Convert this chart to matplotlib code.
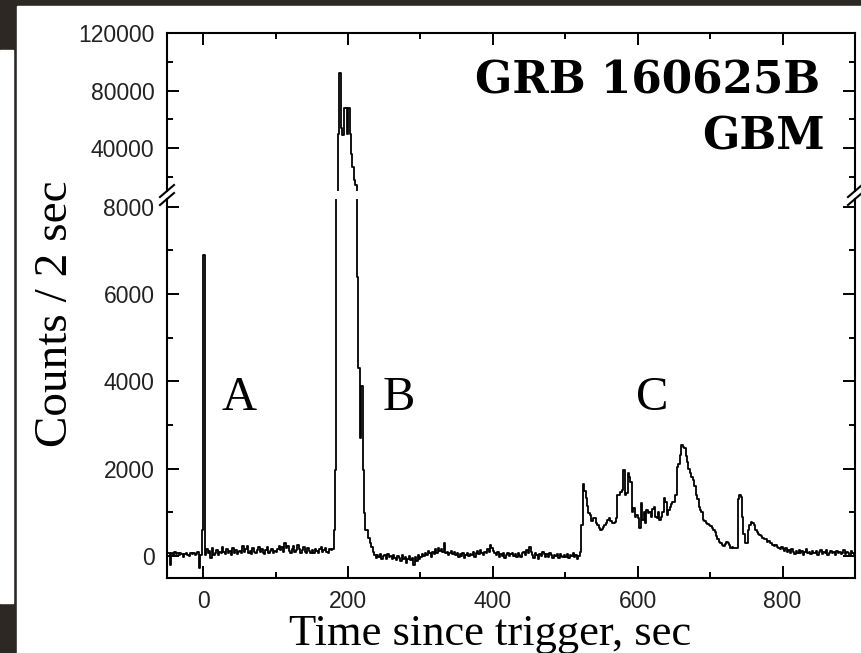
import numpy as np
import matplotlib.pyplot as plt
from matplotlib.lines import Line2D
from matplotlib.patches import Rectangle
from matplotlib.ticker import MultipleLocator

# GBM light curve, counts per 2 s bin, first bin starts at t = -48 s
t_start = -48
bin_width = 2

pre = [60, -200, 80, 20, 90, 40, 60, 30, 70, 50, -20, 40, 80, 30, 10, 60,
       40, 70, 20, 50, 90, -280, 30, 600]
c000 = [6900, 20, 150, 60, 120, -50, 180, 30, 80, 140, 20, 100, 60, 200, 90,
        40, 150, 70, 110, 30, 190, 80, 130, 50, 100]
c050 = [120, 60, 220, 90, 150, 230, 70, 120, 40, 180, 100, 60, 140, 210, 90,
        160, 70, 50, 130, 200, 80, 110, 170, 60, 120]
c100 = [90, 150, 240, 130, 200, 100, 290, 180, 230, 120, 60, 160, 220, 90,
        140, 250, 170, 80, 130, 210, 100, 60, 180, 120, 70]
c150 = [130, 80, 170, 110, 60, 150, 200, 90, 140, 180, 100, 70, 160, 130,
        150, 600, 1970, 9000, 50000, 92000, 54000, 49000, 67700, 67700, 50000]
c200 = [67700, 50000, 36000, 27000, 17600, 14000, 6400, 4300, 2700, 3900,
        1970, 985, 600, 600, 410, 300, 210, 100, 20, -40, 30, -20, 50, -60, 10]
c250 = [20, -60, 40, -30, 0, -80, 30, -50, -100, 10, -40, -120, 20, -70, -30,
        -150, -60, 10, -90, -40, -200, -20, -110, 30, -60]
c300 = [-30, 50, -10, 80, 20, 110, 60, -20, 90, 40, 150, 70, 180, 120, 160,
        90, 300, 60, 100, 30, 80, 120, 40, 90, 20]
c350 = [60, -20, 40, 0, 80, -40, 30, 70, -10, 50, 20, 90, -30, 60, 110, 40,
        130, 70, 20, 100, 60, 150, 90, 250, 180]
c400 = [120, 60, 20, 90, -20, 40, 0, 70, -50, 30, 60, -10, 40, 80, 10, 50,
        -30, 70, 30, -20, 60, 100, 30, 140, 80]
c450 = [200, 90, 30, -40, 60, 20, -60, 40, 10, 100, 50, -30, 40, -20, 70, 20,
        -50, 30, 0, 40, -40, 50, 10, -30, 20]
c500 = [-20, 40, -50, 30, -10, 60, -30, 20, -60, 10, 100, 710, 1650, 1500,
        1320, 1150, 980, 940, 800, 880, 860, 760, 710, 640, 595]
c550 = [620, 670, 700, 760, 820, 860, 800, 760, 750, 790, 860, 1400, 1400,
        1470, 1520, 1970, 1400, 1450, 1890, 1820, 1700, 1015, 1100, 900, 950]
c600 = [880, 630, 1210, 820, 1000, 760, 1050, 980, 1015, 900, 1080, 1130, 900,
        860, 1000, 820, 900, 1000, 1320, 1245, 940, 1050, 1130, 1200, 1245]
c650 = [1245, 1400, 2045, 2100, 2313, 2540, 2500, 2465, 2300, 2160, 2000,
        1890, 1800, 1740, 1600, 1400, 1300, 1130, 1050, 1000, 820, 800, 760,
        740, 710]
c700 = [680, 640, 595, 560, 450, 380, 330, 300, 250, 230, 280, 330, 300, 250,
        175, 200, 175, 180, 175, 1300, 1400, 1350, 900, 500, 290]
c750 = [290, 600, 710, 790, 760, 700, 600, 560, 500, 480, 460, 420, 400, 380,
        330, 350, 300, 290, 260, 230, 250, 210, 180, 160, 200]
c800 = [150, 120, 180, 90, 130, 60, 150, 100, 50, 120, 80, 140, 60, 110, 30,
        90, 150, 70, 100, 40, 120, 80, 60, 110, 20]
c850 = [90, 130, 50, 100, 70, 140, 30, 80, 110, 60, 90, 20, 120, 70, 100, 40,
        80, 130, 50, 90, 60, 10, 110, 70, 40]

counts = np.array(pre + c000 + c050 + c100 + c150 + c200 + c250 + c300 + c350
                  + c400 + c450 + c500 + c550 + c600 + c650 + c700 + c750
                  + c800 + c850, dtype=float)
t = t_start + bin_width * np.arange(len(counts))

episodes = ["A", "B", "C"]
episode_x = [239, 399, 652]   # pixel centres of the letters

W, H = 861, 653
def fx(x):
    return x / W
def fy(y):
    return 1 - y / H

dark = '#2d2823'
fig = plt.figure(figsize=(W / 100, H / 100), dpi=100)
fig.patch.set_facecolor(dark)
fig.add_artist(Rectangle((fx(17), 0), 1 - fx(17), fy(6), transform=fig.transFigure,
                         color='white', zorder=-2))
fig.add_artist(Rectangle((0, fy(603)), fx(13), fy(50) - fy(603),
                         transform=fig.transFigure, color='white', zorder=-2))

left, right = 167, 855
ax_lo = fig.add_axes([fx(left), fy(578), fx(right) - fx(left), fy(199) - fy(578)])
ax_hi = fig.add_axes([fx(left), fy(191), fx(right) - fx(left), fy(33.3) - fy(191)])

for ax in (ax_lo, ax_hi):
    ax.step(t, counts, where='post', color='black', lw=1.3)
    ax.set_xlim(-50, 900)
    ax.xaxis.set_major_locator(MultipleLocator(200))
    ax.xaxis.set_minor_locator(MultipleLocator(100))
    for s in ax.spines.values():
        s.set_linewidth(1.5)
    ax.tick_params(which='both', direction='in', width=1.4, right=True,
                   labelsize=16.5, labelcolor='#222222', pad=9)
    ax.tick_params(which='major', length=8.5)
    ax.tick_params(which='minor', length=4.5)

ax_lo.set_ylim(-504, 8177)
ax_lo.yaxis.set_major_locator(MultipleLocator(2000))
ax_lo.yaxis.set_minor_locator(MultipleLocator(1000))
ax_lo.spines['top'].set_visible(False)
ax_lo.tick_params(which='both', top=False)

ax_hi.set_ylim(9970, 120000)
ax_hi.yaxis.set_major_locator(MultipleLocator(40000))
ax_hi.yaxis.set_minor_locator(MultipleLocator(20000))
ax_hi.spines['bottom'].set_visible(False)
ax_hi.tick_params(which='both', bottom=False, top=True, labelbottom=False)

for ax in (ax_lo, ax_hi):
    for lab in ax.get_xticklabels() + ax.get_yticklabels():
        lab.set_family('Liberation Sans')

# axis break marks
for xb in (left, right):
    for yb in (199, 191):
        fig.add_artist(Line2D([fx(xb - 7), fx(xb + 7)], [fy(yb + 6), fy(yb - 6)],
                              transform=fig.transFigure, color='black', lw=1.5))

serif = 'Liberation Serif'
for lab, xp in zip(episodes, episode_x):
    fig.text(fx(xp), fy(410), lab, ha='center', va='baseline', fontsize=35,
             family=serif)

fig.text(fx(820), fy(93), 'GRB 160625B', ha='right', va='baseline',
         fontsize=31.5, family='DejaVu Serif', weight='bold')
fig.text(fx(825), fy(150), 'GBM', ha='right', va='baseline',
         fontsize=31.5, family='DejaVu Serif', weight='bold')

fig.text(fx(490), fy(645), 'Time since trigger, sec', ha='center', va='baseline',
         fontsize=32, family=serif)
fig.text(fx(56), fy(314), 'Counts / 2 sec', ha='center', va='center',
         rotation=90, fontsize=34, family=serif)

fig.savefig('out.png', dpi=100, facecolor=fig.get_facecolor())
